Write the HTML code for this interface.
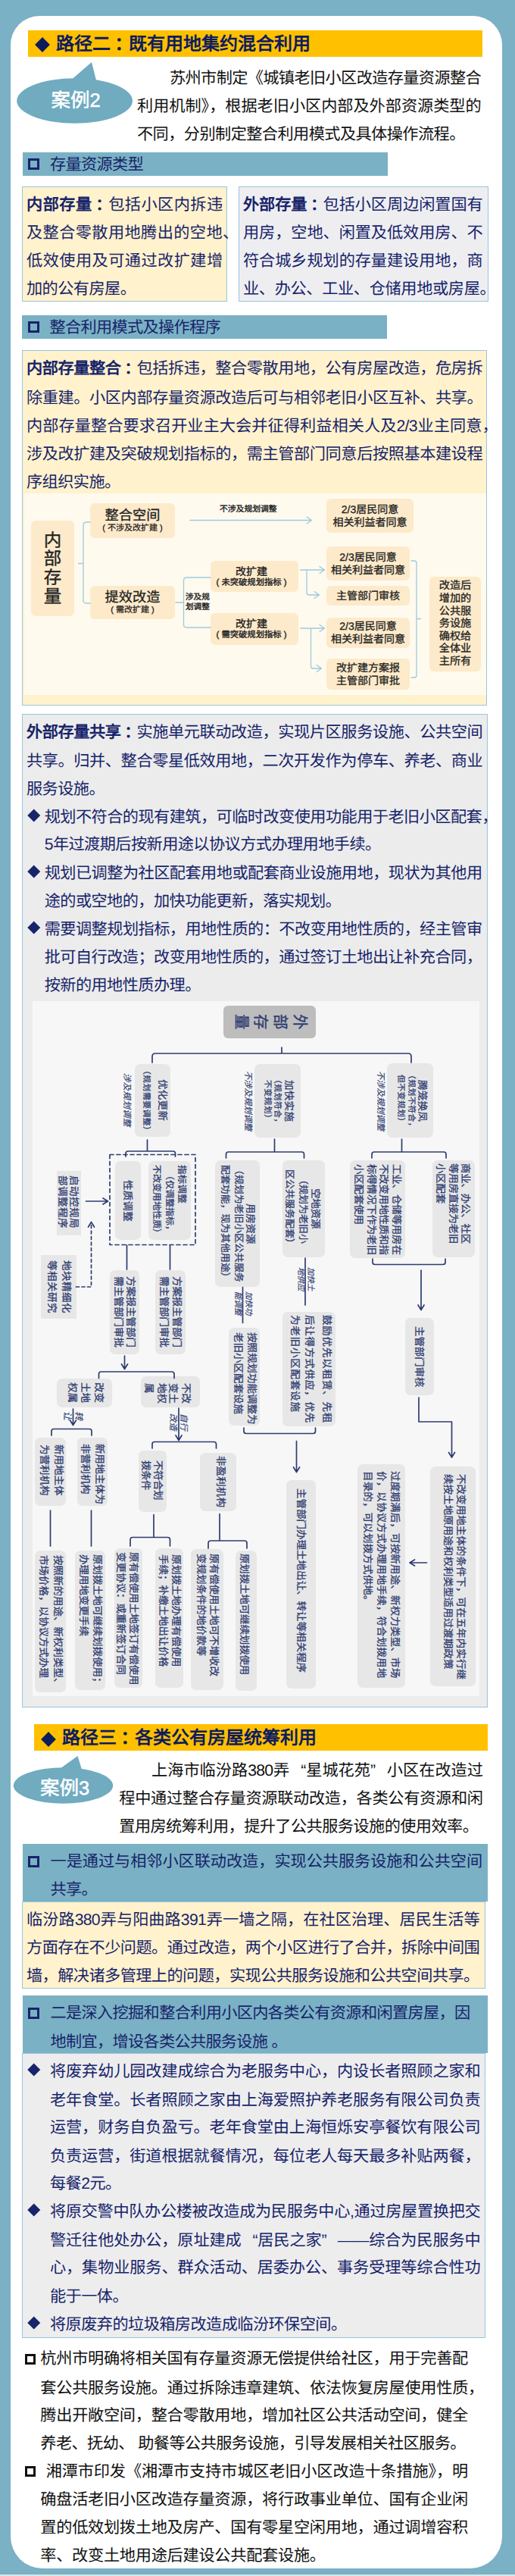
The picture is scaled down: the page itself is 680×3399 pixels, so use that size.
<!DOCTYPE html>
<html lang="zh-CN"><head><meta charset="utf-8"><title>page</title><style>
html,body{margin:0;padding:0}
body{width:680px;height:3399px;background:#7ab1c4;position:relative;overflow:hidden;font-family:"Liberation Sans",sans-serif;font-size:21.2px;color:#111;text-rendering:geometricPrecision;}
.b{position:absolute}
.l{position:absolute;white-space:nowrap;line-height:37px;height:37px;letter-spacing:-0.7px}
.cn{position:relative;left:0.22em}
.j{text-align:justify;text-align-last:justify}
.n{color:#17246a}
b{font-weight:bold}
.t{position:absolute;white-space:nowrap;font-weight:bold;color:#0e1c5e;font-size:24px;line-height:35px}
svg{position:absolute;overflow:visible}
.td{position:absolute;left:-4px;top:11.5px;width:14px;height:14px;background:#0e1c5e;transform:rotate(45deg)}
.cs{height:37px;line-height:37px;text-align:center;color:#fff;font-size:25.5px;-webkit-text-stroke:0.5px #fff}

.fb{display:flex;align-items:center;justify-content:center;text-align:center;white-space:nowrap}

.dia{position:absolute;left:-21px;top:10.4px;width:11.5px;height:11.5px;background:#17246a;transform:rotate(45deg)}

.v{position:absolute;writing-mode:vertical-rl;text-orientation:sideways;white-space:nowrap;color:#2f3c70;font-size:13.5px;-webkit-text-stroke:0.3px #2f3c70}
.vi{font-style:italic;font-size:11.3px;-webkit-text-stroke:0.15px #2f3c70}
.b0{-webkit-text-stroke:0.35px #2f3c70}

.ql{display:inline-block;width:1em;text-align:right;text-align-last:right}
.qr{display:inline-block;width:1em;text-align:left;text-align-last:left}
.sq{position:absolute;left:-29.5px;top:11px;width:15px;height:15px;border:3.2px solid #17246a;box-sizing:border-box}
.sqk{position:absolute;left:-20.5px;top:11.5px;width:14px;height:14px;border:3px solid #111;box-sizing:border-box}
</style></head><body>
<div class="b" style="left:14px;top:21px;width:648.5px;height:3368px;background:#fff;border-radius:38px 38px 42px 42px"></div>
<div class="b" style="left:0;top:3397px;width:680px;height:2px;background:#d4e6ec"></div>
<div class="b" style="left:37.0px;top:40.0px;width:600.0px;height:35.4px;background:#ffc000;"></div>
<div class="t" style="left:53px;top:40.5px"><span class="td"></span><span style="margin-left:21px">路径二<span class="cn">：</span>既有用地集约混合利用</span></div>
<svg style="left:0;top:0" width="680" height="200"><ellipse cx="98.6" cy="133" rx="76.4" ry="29.7" fill="#70abc0"/><path d="M91 108 L121 82 L128 110Z" fill="#70abc0"/></svg>
<div class="b cs" style="left:29px;top:114.5px;width:142px">案例2</div>
<div class="l j " style="left:224.0px;top:84.5px;width:411.0px;">苏州市制定《城镇老旧小区改造存量资源整合</div>
<div class="l j " style="left:181.0px;top:121.5px;width:454.0px;">利用机制》，根据老旧小区内部及外部资源类型的</div>
<div class="l " style="left:181.0px;top:158.5px;letter-spacing:-0.58px;">不同，分别制定整合利用模式及具体操作流程。</div>
<div class="b" style="left:29.7px;top:201.2px;width:481.9px;height:30.8px;background:#7ab1c4;"></div>
<div class="b" style="left:37.0px;top:209.29999999999998px;width:15px;height:15px;border:3.2px solid #17246a;box-sizing:border-box"></div>
<div class="l n" style="left:66.0px;top:199.3px;">存量资源类型</div>
<div class="b" style="left:28.5px;top:246.0px;width:271.5px;height:152.0px;background:#fff2cc;border:1.5px solid #98c6dc;box-sizing:border-box;"></div>
<div class="l j n" style="left:35.0px;top:251.5px;width:258.5px;"><b>内部存量<span class="cn">：</span></b>包括小区内拆违</div>
<div class="l j n" style="left:35.0px;top:288.5px;width:279.5px;">及整合零散用地腾出的空地、</div>
<div class="l j n" style="left:35.0px;top:325.5px;width:258.5px;">低效使用及可通过改扩建增</div>
<div class="l n" style="left:35.0px;top:362.5px;letter-spacing:-0.58px;">加的公有房屋。</div>
<div class="b" style="left:314.5px;top:246.0px;width:330.5px;height:152.0px;background:#eeeef1;border:1.5px solid #98c6dc;box-sizing:border-box;"></div>
<div class="l j n" style="left:321.0px;top:251.5px;width:316.0px;"><b>外部存量<span class="cn">：</span></b>包括小区周边闲置国有</div>
<div class="l j n" style="left:321.0px;top:288.5px;width:316.0px;">用房，空地、闲置及低效用房、不</div>
<div class="l j n" style="left:321.0px;top:325.5px;width:316.0px;">符合城乡规划的存量建设用地，商</div>
<div class="l j n" style="left:321.0px;top:362.5px;width:333.0px;">业、办公、工业、仓储用地或房屋。</div>
<div class="b" style="left:29.3px;top:416.2px;width:481.3px;height:30.9px;background:#7ab1c4;"></div>
<div class="b" style="left:36.6px;top:424.34999999999997px;width:15px;height:15px;border:3.2px solid #17246a;box-sizing:border-box"></div>
<div class="l n" style="left:65.6px;top:414.3px;">整合利用模式及操作程序</div>
<div class="b" style="left:29.0px;top:462.0px;width:614.0px;height:469.0px;background:#fff2cc;border:1.5px solid #98c6dc;box-sizing:border-box;"></div>
<div class="l j n" style="left:35.0px;top:468.2px;width:602.0px;"><b>内部存量整合<span class="cn">：</span></b>包括拆违，整合零散用地，公有房屋改造，危房拆</div>
<div class="l j n" style="left:35.0px;top:506.5px;width:602.0px;">除重建。小区内部存量资源改造后可与相邻老旧小区互补、共享。</div>
<div class="l j n" style="left:35.0px;top:544.2px;width:622.0px;">内部存量整合要求召开业主大会并征得利益相关人及2/3业主同意，</div>
<div class="l j n" style="left:35.0px;top:580.5px;width:602.0px;">涉及改扩建及突破规划指标的，需主管部门同意后按照基本建设程</div>
<div class="l n" style="left:35.0px;top:617.5px;letter-spacing:-0.58px;">序组织实施。</div>
<div class="b" style="left:32.0px;top:651.0px;width:610.0px;height:266.0px;background:#fffaee;"></div>
<div class="b fb" style="left:41.0px;top:687.0px;width:57.0px;height:126.0px;background:#fdeaca;border-radius:6px;font-size:23.5px;line-height:24.6px;color:#222;font-weight:normal;-webkit-text-stroke:0.35px #222;"><div><div>内</div><div>部</div><div>存</div><div>量</div></div></div>
<div class="b fb" style="left:119.0px;top:664.0px;width:112.0px;height:46.0px;background:#fdeaca;border-radius:6px;font-size:14px;line-height:16.7px;color:#222;font-weight:normal;-webkit-text-stroke:0.3px #222;"><div><div style="font-size:18.2px;line-height:20px">整合空间</div><div style="font-size:11px;line-height:14px">( 不涉及改扩建 )</div></div></div>
<div class="b fb" style="left:119.0px;top:773.0px;width:112.0px;height:44.0px;background:#fdeaca;border-radius:6px;font-size:14px;line-height:16.7px;color:#222;font-weight:normal;-webkit-text-stroke:0.3px #222;"><div><div style="font-size:18.2px;line-height:20px">提效改造</div><div style="font-size:11px;line-height:14px">( 需改扩建 )</div></div></div>
<div class="b fb" style="left:278.0px;top:740.0px;width:116.0px;height:41.0px;background:#fdeaca;border-radius:6px;font-size:14px;line-height:16.7px;color:#222;font-weight:normal;-webkit-text-stroke:0.4px #222;padding-right:8px;box-sizing:border-box;"><div><div style="font-size:14px;line-height:17px">改扩建</div><div style="font-size:11.3px;line-height:13px">( 未突破规划指标 )</div></div></div>
<div class="b fb" style="left:278.0px;top:809.0px;width:116.0px;height:42.0px;background:#fdeaca;border-radius:6px;font-size:14px;line-height:16.7px;color:#222;font-weight:normal;-webkit-text-stroke:0.4px #222;padding-right:8px;box-sizing:border-box;"><div><div style="font-size:14px;line-height:17px">改扩建</div><div style="font-size:11.3px;line-height:13px">( 需突破规划指标 )</div></div></div>
<div class="b fb" style="left:431.0px;top:658.0px;width:115.0px;height:45.0px;background:#fdeaca;border-radius:6px;font-size:14px;line-height:16.7px;color:#222;font-weight:normal;-webkit-text-stroke:0.3px #222;"><div><div>2/3居民同意</div><div>相关利益者同意</div></div></div>
<div class="b fb" style="left:431.0px;top:721.0px;width:110.0px;height:45.0px;background:#fdeaca;border-radius:6px;font-size:14px;line-height:16.7px;color:#222;font-weight:normal;-webkit-text-stroke:0.3px #222;"><div><div>2/3居民同意</div><div>相关利益者同意</div></div></div>
<div class="b fb" style="left:431.0px;top:773.0px;width:110.0px;height:26.0px;background:#fdeaca;border-radius:6px;font-size:14px;line-height:16.7px;color:#222;font-weight:normal;-webkit-text-stroke:0.3px #222;"><div><div>主管部门审核</div></div></div>
<div class="b fb" style="left:431.0px;top:815.0px;width:110.0px;height:40.0px;background:#fdeaca;border-radius:6px;font-size:14px;line-height:16.7px;color:#222;font-weight:normal;-webkit-text-stroke:0.3px #222;"><div><div>2/3居民同意</div><div>相关利益者同意</div></div></div>
<div class="b fb" style="left:431.0px;top:869.0px;width:110.0px;height:41.0px;background:#fdeaca;border-radius:6px;font-size:14px;line-height:16.7px;color:#222;font-weight:normal;-webkit-text-stroke:0.3px #222;"><div><div>改扩建方案报</div><div>主管部门审批</div></div></div>
<div class="b fb" style="left:567.0px;top:761.0px;width:68.0px;height:125.0px;background:#fdeaca;border-radius:6px;font-size:14.2px;line-height:16.6px;color:#222;font-weight:normal;-webkit-text-stroke:0.3px #222;"><div><div>改造后</div><div>增加的</div><div>公共服</div><div>务设施</div><div>确权给</div><div>全体业</div><div>主所有</div></div></div>
<div class="b" style="left:290px;top:666px;font-size:10.8px;line-height:13px;-webkit-text-stroke:0.4px #222;color:#222;white-space:nowrap">不涉及规划调整</div>
<div class="b" style="left:245px;top:782px;font-size:10.6px;line-height:13px;-webkit-text-stroke:0.4px #222;color:#222;white-space:nowrap">涉及规<br>划调整</div>
<svg style="left:0;top:0" width="680" height="940" fill="none" stroke="#9ccbdd" stroke-width="1.3" stroke-linecap="round" stroke-linejoin="round">
<path d="M119 689 H114 Q110 689 110 693 V792 Q110 796 114 796 H119 M110 743.5 H103.5"/>
<path d="M251 686.5 H411 M405 682 L411.5 686.5 L405 691"/>
<path d="M278 762 H246.5 Q242.5 762 242.5 766 V824 Q242.5 828 246.5 828 H278 M242.5 795 H232"/>
<path d="M396.5 752 H428 M422 747.5 L428.5 752 L422 756.5 M405 752 V782 Q405 785 408 785 H421 M415 780.5 L421.5 785 L415 789.5"/>
<path d="M396.5 829 H428 M422 824.5 L428.5 829 L422 833.5 M410.5 829 V879 Q410.5 882 413.5 882 H424 M418 877.5 L424.5 882 L418 886.5"/>
<path d="M543 740 H547 Q550 740 550 743 V891 Q550 894 547 894 H543 M550 816.5 H555.5"/>
</svg>
<div class="b" style="left:29.0px;top:942.0px;width:614.5px;height:1311.0px;background:#ececec;border:1.5px solid #98c6dc;box-sizing:border-box;"></div>
<div class="l j n" style="left:35.0px;top:948.2px;width:602.0px;"><b>外部存量共享<span class="cn">：</span></b>实施单元联动改造，实现片区服务设施、公共空间</div>
<div class="l j n" style="left:35.0px;top:986.2px;width:602.0px;">共享。归并、整合零星低效用地，二次开发作为停车、养老、商业</div>
<div class="l n" style="left:35.0px;top:1023.2px;letter-spacing:-0.58px;">服务设施。</div>
<div class="l j n" style="left:58.7px;top:1059.5px;width:598.0px;"><span class="dia" style="left:-19.75px"></span>规划不符合的现有建筑，可临时改变使用功能用于老旧小区配套，</div>
<div class="l n" style="left:58.7px;top:1096.0px;letter-spacing:-0.58px;">5年过渡期后按新用途以协议方式办理用地手续。</div>
<div class="l j n" style="left:58.7px;top:1133.5px;width:577.8px;"><span class="dia" style="left:-19.75px"></span>规划已调整为社区配套用地或配套商业设施用地，现状为其他用</div>
<div class="l n" style="left:58.7px;top:1170.5px;letter-spacing:-0.58px;">途的或空地的，加快功能更新，落实规划。</div>
<div class="l j n" style="left:58.7px;top:1207.5px;width:577.8px;"><span class="dia" style="left:-19.75px"></span>需要调整规划指标，用地性质的：不改变用地性质的，经主管审</div>
<div class="l j n" style="left:58.7px;top:1244.5px;width:577.5px;">批可自行改造；改变用地性质的，通过签订土地出让补充合同，</div>
<div class="l n" style="left:58.7px;top:1281.5px;letter-spacing:-0.58px;">按新的用地性质办理。</div>
<div class="b" style="left:43.0px;top:1321.0px;width:590.0px;height:917.0px;background:#f7f7f7;"></div>
<div class="b" style="left:295.0px;top:1327.0px;width:122.0px;height:43.0px;background:#bdbdbd;border-radius:6px;"></div>
<div class="v b0" style="left:382.5px;width:24px;line-height:24px;font-size:20.5px;top:1338.2px;">外</div>
<div class="v b0" style="left:356.9px;width:24px;line-height:24px;font-size:20.5px;top:1338.2px;">部</div>
<div class="v b0" style="left:331.3px;width:24px;line-height:24px;font-size:20.5px;top:1338.2px;">存</div>
<div class="v b0" style="left:305.7px;width:24px;line-height:24px;font-size:20.5px;top:1338.2px;">量</div>
<div class="b" style="left:177.5px;top:1403.5px;width:47.0px;height:96.0px;background:#e7e7e7;border-radius:7px;"></div>
<div class="v " style="left:205.6px;width:17px;line-height:17px;top:1424.1px;letter-spacing:0.30px;">优化更新</div>
<div class="v " style="left:184.0px;width:17px;line-height:17px;font-size:10.8px;top:1406.5px;letter-spacing:0.50px;">（规划需要调整）</div>
<div class="b" style="left:336.0px;top:1404.0px;width:60.5px;height:97.0px;background:#e7e7e7;border-radius:7px;"></div>
<div class="v " style="left:372.6px;width:17px;line-height:17px;top:1425.1px;letter-spacing:0.30px;">加快实施</div>
<div class="v " style="left:356.8px;width:17px;line-height:17px;font-size:10.8px;top:1418.8px;letter-spacing:0.50px;">（规划符合，</div>
<div class="v " style="left:344.0px;width:17px;line-height:17px;font-size:10.8px;top:1424.5px;letter-spacing:0.50px;">不变规划）</div>
<div class="b" style="left:511.0px;top:1403.0px;width:61.0px;height:98.0px;background:#e7e7e7;border-radius:7px;"></div>
<div class="v " style="left:549.0px;width:17px;line-height:17px;top:1424.6px;letter-spacing:0.30px;">腾笼换凤</div>
<div class="v " style="left:534.0px;width:17px;line-height:17px;font-size:10.8px;top:1412.7px;letter-spacing:0.50px;">（规划不符合，</div>
<div class="v " style="left:520.0px;width:17px;line-height:17px;font-size:10.8px;top:1418.3px;letter-spacing:0.50px;">但不变规划）</div>
<div class="v vi" style="left:157.7px;width:17px;line-height:17px;font-size:11.3px;top:1416.3px;letter-spacing:0.50px;">涉及规划调整</div>
<div class="v vi" style="left:318.4px;width:17px;line-height:17px;font-size:11.3px;top:1412.5px;">不涉及规划调整</div>
<div class="v vi" style="left:492.8px;width:17px;line-height:17px;font-size:11.3px;top:1412.5px;">不涉及规划调整</div>
<div class="b" style="left:151.5px;top:1532.0px;width:34.5px;height:104.0px;background:#e7e7e7;border-radius:7px;"></div>
<div class="v " style="left:160.4px;width:17px;line-height:17px;top:1556.6px;letter-spacing:0.25px;">性质调整</div>
<div class="b" style="left:196.0px;top:1532.0px;width:56.0px;height:104.0px;background:#e7e7e7;border-radius:7px;"></div>
<div class="v " style="left:231.0px;width:17px;line-height:17px;font-size:12.5px;top:1536.5px;letter-spacing:0.25px;">指标调整</div>
<div class="v " style="left:214.6px;width:17px;line-height:17px;font-size:12px;top:1544.5px;">（仅调整指标，</div>
<div class="v " style="left:198.3px;width:17px;line-height:17px;font-size:12px;top:1536.5px;">不改变用地性质）</div>
<div class="b" style="left:75.0px;top:1544.5px;width:32.0px;height:85.5px;background:#e7e7e7;"></div>
<div class="v " style="left:89.3px;width:17px;line-height:17px;top:1551.0px;letter-spacing:0.50px;">启动控规局</div>
<div class="v " style="left:74.4px;width:17px;line-height:17px;top:1551.0px;letter-spacing:0.50px;">部调整程序</div>
<div class="b" style="left:53.5px;top:1656.0px;width:47.0px;height:83.6px;background:#e7e7e7;"></div>
<div class="v " style="left:78.7px;width:17px;line-height:17px;top:1663.0px;letter-spacing:0.50px;">地块精细化</div>
<div class="v " style="left:60.3px;width:17px;line-height:17px;top:1663.0px;letter-spacing:0.50px;">等相关研究</div>
<div class="b" style="left:144.5px;top:1675.5px;width:39.5px;height:111.0px;background:#e7e7e7;border-radius:7px;"></div>
<div class="v " style="left:164.0px;width:17px;line-height:17px;top:1684.0px;letter-spacing:-0.10px;">方案报主管部门</div>
<div class="v " style="left:148.0px;width:17px;line-height:17px;top:1684.0px;letter-spacing:-0.10px;">需主管部门审批</div>
<div class="b" style="left:205.0px;top:1675.5px;width:39.5px;height:111.0px;background:#e7e7e7;border-radius:7px;"></div>
<div class="v " style="left:225.2px;width:17px;line-height:17px;top:1684.0px;letter-spacing:-0.10px;">方案报主管部门</div>
<div class="v " style="left:208.0px;width:17px;line-height:17px;top:1684.0px;letter-spacing:-0.10px;">需主管部门审批</div>
<div class="b" style="left:75.0px;top:1818.5px;width:72.5px;height:38.5px;background:#e7e7e7;border-radius:7px;"></div>
<div class="v " style="left:122.2px;width:17px;line-height:17px;top:1824.2px;">改变</div>
<div class="v " style="left:104.3px;width:17px;line-height:17px;top:1824.2px;">土地</div>
<div class="v " style="left:87.2px;width:17px;line-height:17px;top:1824.2px;">权属</div>
<div class="b" style="left:186.0px;top:1816.0px;width:77.5px;height:40.5px;background:#e7e7e7;border-radius:7px;"></div>
<div class="v " style="left:236.7px;width:17px;line-height:17px;top:1824.5px;">不改</div>
<div class="v " style="left:219.6px;width:17px;line-height:17px;top:1824.5px;">变土</div>
<div class="v " style="left:204.7px;width:17px;line-height:17px;top:1824.5px;">地权</div>
<div class="v " style="left:187.6px;width:17px;line-height:17px;top:1824.5px;">属</div>
<div class="v vi" style="left:95.3px;width:17px;line-height:17px;font-size:12px;top:1861.5px;">转</div>
<div class="v vi" style="left:79.7px;width:17px;line-height:17px;font-size:12px;top:1861.5px;">让</div>
<div class="v vi" style="left:232.8px;width:17px;line-height:17px;font-size:11.3px;top:1865.1px;letter-spacing:0.20px;">自行</div>
<div class="v vi" style="left:218.5px;width:17px;line-height:17px;font-size:11.3px;top:1865.1px;letter-spacing:0.20px;">改造</div>
<div class="b" style="left:46.0px;top:1897.0px;width:40.5px;height:89.5px;background:#e7e7e7;border-radius:7px;"></div>
<div class="v " style="left:68.8px;width:17px;line-height:17px;top:1905.5px;">新用地主体</div>
<div class="v " style="left:50.0px;width:17px;line-height:17px;top:1905.5px;">为营利机构</div>
<div class="b" style="left:102.0px;top:1897.0px;width:40.0px;height:89.5px;background:#e7e7e7;border-radius:7px;"></div>
<div class="v " style="left:122.7px;width:17px;line-height:17px;top:1905.0px;letter-spacing:-0.20px;">新用地主体为</div>
<div class="v " style="left:104.3px;width:17px;line-height:17px;top:1905.0px;letter-spacing:-0.20px;">非营利机构</div>
<div class="b" style="left:183.0px;top:1914.0px;width:37.0px;height:80.5px;background:#e7e7e7;border-radius:7px;"></div>
<div class="v " style="left:200.4px;width:17px;line-height:17px;top:1927.0px;letter-spacing:-0.50px;">不符合划</div>
<div class="v " style="left:184.2px;width:17px;line-height:17px;top:1927.0px;letter-spacing:-0.50px;">拨条件</div>
<div class="b" style="left:263.5px;top:1916.5px;width:48.5px;height:77.0px;background:#e7e7e7;border-radius:7px;"></div>
<div class="v " style="left:283.0px;width:17px;line-height:17px;top:1921.0px;letter-spacing:0.10px;">非盈利机构</div>
<div class="b" style="left:46.0px;top:2046.0px;width:40.5px;height:187.0px;background:#e7e7e7;border-radius:7px;"></div>
<div class="v " style="left:68.0px;width:17px;line-height:17px;top:2051.5px;">按照新的用途、新权利类型、</div>
<div class="v " style="left:48.8px;width:17px;line-height:17px;top:2051.5px;">市场价格，以协议方式办理</div>
<div class="b" style="left:99.0px;top:2046.0px;width:40.0px;height:184.0px;background:#e7e7e7;border-radius:7px;"></div>
<div class="v " style="left:120.0px;width:17px;line-height:17px;top:2051.0px;">原划拨土地可继续划拨使用；</div>
<div class="v " style="left:102.2px;width:17px;line-height:17px;top:2051.0px;">办理用地变更手续</div>
<div class="b" style="left:151.0px;top:2043.0px;width:37.0px;height:184.0px;background:#e7e7e7;border-radius:7px;"></div>
<div class="v " style="left:168.4px;width:17px;line-height:17px;top:2048.0px;">原有偿使用土地签订有偿使用</div>
<div class="v " style="left:151.3px;width:17px;line-height:17px;top:2048.0px;">变更协议：或重新签订合同</div>
<div class="b" style="left:205.0px;top:2043.0px;width:37.0px;height:184.0px;background:#e7e7e7;border-radius:7px;"></div>
<div class="v " style="left:224.0px;width:17px;line-height:17px;top:2050.5px;">原划拨土地办理有偿使用</div>
<div class="v " style="left:206.8px;width:17px;line-height:17px;top:2050.5px;">手续；补缴土地出让价格</div>
<div class="b" style="left:251.5px;top:2044.0px;width:43.5px;height:185.5px;background:#e7e7e7;border-radius:7px;"></div>
<div class="v " style="left:274.4px;width:17px;line-height:17px;top:2050.0px;">原有偿使用土地可不增收改</div>
<div class="v " style="left:257.3px;width:17px;line-height:17px;top:2050.0px;">变规划条件的地价款等</div>
<div class="b" style="left:310.5px;top:2046.0px;width:28.5px;height:185.0px;background:#e7e7e7;border-radius:7px;"></div>
<div class="v " style="left:314.0px;width:17px;line-height:17px;top:2050.0px;letter-spacing:-0.15px;">原划拨土地可继续划拨使用</div>
<div class="b" style="left:377.5px;top:1953.0px;width:39.0px;height:274.5px;background:#e7e7e7;border-radius:7px;"></div>
<div class="v " style="left:388.5px;width:17px;line-height:17px;top:1963.5px;">主管部门办理土地出让、转让等相关程序</div>
<div class="b" style="left:283.5px;top:1531.0px;width:59.0px;height:166.5px;background:#e7e7e7;border-radius:7px;"></div>
<div class="v " style="left:322.0px;width:17px;line-height:17px;top:1587.6px;letter-spacing:-0.20px;">用房资源</div>
<div class="v " style="left:307.2px;width:17px;line-height:17px;font-size:12.9px;top:1536.5px;">（规划为老旧小区公共服务</div>
<div class="v " style="left:288.8px;width:17px;line-height:17px;font-size:12.9px;top:1536.5px;">配套功能，现为其他用途）</div>
<div class="b" style="left:373.0px;top:1531.0px;width:55.5px;height:128.0px;background:#e7e7e7;border-radius:7px;"></div>
<div class="v " style="left:407.7px;width:17px;line-height:17px;top:1568.3px;letter-spacing:-0.20px;">空地资源</div>
<div class="v " style="left:392.0px;width:17px;line-height:17px;font-size:13px;top:1549.5px;">（规划为老旧小</div>
<div class="v " style="left:374.0px;width:17px;line-height:17px;font-size:13px;top:1543.0px;">区公共服务配套）</div>
<div class="v vi" style="left:319.0px;width:17px;line-height:17px;font-size:10.5px;top:1703.8px;">加快功</div>
<div class="v vi" style="left:305.2px;width:17px;line-height:17px;font-size:10.5px;top:1703.8px;">能调整</div>
<div class="v vi" style="left:400.6px;width:17px;line-height:17px;font-size:10.5px;top:1671.5px;">加快土</div>
<div class="v vi" style="left:388.0px;width:17px;line-height:17px;font-size:10.5px;top:1671.5px;">地供应</div>
<div class="b" style="left:302.0px;top:1752.0px;width:41.0px;height:129.0px;background:#e7e7e7;border-radius:7px;"></div>
<div class="v " style="left:323.5px;width:17px;line-height:17px;top:1758.0px;">按照规划功能调整为</div>
<div class="v " style="left:306.4px;width:17px;line-height:17px;top:1758.0px;">老旧小区配套设施</div>
<div class="b" style="left:373.0px;top:1730.5px;width:69.5px;height:151.5px;background:#e7e7e7;border-radius:7px;"></div>
<div class="v " style="left:422.6px;width:17px;line-height:17px;top:1735.0px;letter-spacing:0.80px;">鼓励优先以租赁、先租</div>
<div class="v " style="left:400.4px;width:17px;line-height:17px;top:1735.0px;letter-spacing:0.80px;">后让得方式供应，优先</div>
<div class="v " style="left:381.0px;width:17px;line-height:17px;top:1735.0px;letter-spacing:0.80px;">为老旧小区配套设施</div>
<div class="b" style="left:462.0px;top:1531.0px;width:72.5px;height:129.0px;background:#e7e7e7;border-radius:7px;"></div>
<div class="v " style="left:515.0px;width:17px;line-height:17px;top:1536.0px;letter-spacing:-0.20px;">工业、仓储等用房在</div>
<div class="v " style="left:498.0px;width:17px;line-height:17px;top:1536.0px;letter-spacing:-0.20px;">不改变用地性质和指</div>
<div class="v " style="left:481.7px;width:17px;line-height:17px;top:1536.0px;letter-spacing:-0.20px;">标得情况下作为老旧</div>
<div class="v " style="left:464.6px;width:17px;line-height:17px;top:1536.0px;letter-spacing:-0.20px;">小区配套使用</div>
<div class="b" style="left:571.0px;top:1531.0px;width:55.5px;height:128.0px;background:#e7e7e7;border-radius:7px;"></div>
<div class="v " style="left:605.5px;width:17px;line-height:17px;top:1535.0px;letter-spacing:-0.25px;">商业、办公、社区</div>
<div class="v " style="left:589.7px;width:17px;line-height:17px;top:1535.0px;letter-spacing:-0.25px;">等用房直接为老旧</div>
<div class="v " style="left:572.6px;width:17px;line-height:17px;top:1535.0px;letter-spacing:-0.25px;">小区配套</div>
<div class="b" style="left:534.5px;top:1739.0px;width:38.5px;height:101.5px;background:#e7e7e7;border-radius:7px;"></div>
<div class="v " style="left:545.0px;width:17px;line-height:17px;top:1749.5px;letter-spacing:-0.10px;">主管部门审核</div>
<div class="b" style="left:567.5px;top:1935.0px;width:60.5px;height:289.5px;background:#e7e7e7;border-radius:7px;"></div>
<div class="v " style="left:599.5px;width:17px;line-height:17px;top:1945.0px;letter-spacing:0.05px;">不改变用地主体的条件下，可在五年内实行继</div>
<div class="v " style="left:582.5px;width:17px;line-height:17px;top:1945.0px;letter-spacing:0.05px;">续按土地原用途和权利类型适用过渡期政策</div>
<div class="b" style="left:471.5px;top:1932.0px;width:63.0px;height:295.0px;background:#e7e7e7;border-radius:7px;"></div>
<div class="v " style="left:512.8px;width:17px;line-height:17px;top:1940.5px;letter-spacing:0.17px;">过度期满后，可按新用途、新权力类型、市场</div>
<div class="v " style="left:494.5px;width:17px;line-height:17px;top:1940.5px;letter-spacing:0.17px;">价，以协议方式办理用地手续，符合划拨用地</div>
<div class="v " style="left:476.5px;width:17px;line-height:17px;top:1940.5px;letter-spacing:0.17px;">目录的，可以划拨方式供地。</div>
<svg style="left:0;top:0" width="680" height="2260" fill="none" stroke="#2f3c70" stroke-width="1.7" stroke-linecap="round" stroke-linejoin="round">
<path d="M201 1402 V1394 Q201 1390 205 1390 H539 Q543 1390 543 1394 V1402 M372 1390 V1382 M194.5 1504 V1518 M166 1526 V1522 Q166 1519 169 1519 H228.5 Q231.5 1519 231.5 1522 V1526 M362.5 1503 V1519 M298.5 1528 V1523 Q298.5 1520 301.5 1520 H398.5 Q401.5 1520 401.5 1523 V1528 M530.5 1503 V1519 M491 1528 V1523 Q491 1520 494 1520 H586 Q589 1520 589 1523 V1528 M113.5 1585 H142 M136.0 1581 L142.5 1585 L136.0 1589 M167.5 1643 V1675 M224.5 1643 V1675 M164.5 1789 V1806 M160.5 1800.0 L164.5 1806.5 L168.5 1800.0 M130.5 1818.5 V1813 Q130.5 1810 133.5 1810 H227 Q230 1810 230 1813 V1818.5 M96.5 1859 V1880 M92.5 1874.0 L96.5 1880.5 L100.5 1874.0 M68 1894 V1888.5 Q68 1885.5 71 1885.5 H118 Q121 1885.5 121 1888.5 V1894 M236 1858 V1900 M232 1894.0 L236 1900.5 L240 1894.0 M201 1911 V1905.5 Q201 1902.5 204 1902.5 H282.5 Q285.5 1902.5 285.5 1905.5 V1911 M66.5 1993 V2040 M120.5 1993 V2040 M203 1998.5 V2028 M172 2040 V2031.5 Q172 2028.5 175 2028.5 H221.5 Q224.5 2028.5 224.5 2031.5 V2040 M290 1997.5 V2032 M275 2043 V2036 Q275 2033 278 2033 H323 Q326 2033 326 2036 V2043 M320.5 1698.5 V1745.5 M403 1660 V1722 M322 1884 V1888.5 Q322 1891.5 325 1891.5 H413.5 Q416.5 1891.5 416.5 1888.5 V1884 M391.5 1901.5 V1942 M387.5 1936.0 L391.5 1942.5 L395.5 1936.0 M492 1661 V1665.5 Q492 1668.5 495 1668.5 H585 Q588 1668.5 588 1665.5 V1661 M556 1676 V1728 M552 1722.0 L556 1728.5 L560 1722.0 M553 1844 V1876 H596.5 V1922.5 M592.5 1916.5 L596.5 1923 L600.5 1916.5 M563.5 2062 H541.5 M547.5 2058 L541 2062 L547.5 2066"/>
<rect x="145" y="1523.5" width="113" height="119" stroke-dasharray="5 4"/>
<path d="M100.5 1698 H120.5 V1614" stroke-dasharray="4 3.5"/><path d="M116.5 1619.0 L120.5 1612.5 L124.5 1619.0"/>
</svg>
<div class="b" style="left:45.0px;top:2275.0px;width:598.5px;height:35.4px;background:#ffc000;"></div>
<div class="t" style="left:61px;top:2276px"><span class="td"></span><span style="margin-left:21px">路径三<span class="cn">：</span>各类公有房屋统筹利用</span></div>
<svg style="left:0;top:2300px" width="680" height="100"><ellipse cx="83.5" cy="56" rx="65.7" ry="23.7" fill="#70abc0"/><path d="M76 36 L102.5 17 L109 38Z" fill="#70abc0"/></svg>
<div class="b cs" style="left:20px;top:2342px;width:131px">案例3</div>
<div class="l j " style="left:200.0px;top:2317.5px;width:437.3px;">上海市临汾路380弄<span class="ql">“</span>星城花苑<span class="qr">”</span>小区在改造过</div>
<div class="l j " style="left:157.3px;top:2354.5px;width:480.0px;">程中通过整合存量资源联动改造，各类公有资源和闲</div>
<div class="l " style="left:157.3px;top:2391.5px;letter-spacing:-0.58px;">置用房统筹利用，提升了公共服务设施的使用效率。</div>
<div class="b" style="left:30.0px;top:2433.0px;width:613.5px;height:76.0px;background:#7ab1c4;"></div>
<div class="l j n" style="left:66.5px;top:2437.5px;width:570.0px;"><span class="sq"></span>一是通过与相邻小区联动改造，实现公共服务设施和公共空间</div>
<div class="l n" style="left:66.5px;top:2474.5px;">共享。</div>
<div class="b" style="left:28.5px;top:2509.0px;width:612.5px;height:114.5px;background:#fff2cc;border:1.5px solid #98c6dc;box-sizing:border-box;"></div>
<div class="l j n" style="left:35.0px;top:2514.5px;width:598.0px;">临汾路380弄与阳曲路391弄一墙之隔，在社区治理、居民生活等</div>
<div class="l j n" style="left:35.0px;top:2551.5px;width:598.0px;">方面存在不少问题。通过改造，两个小区进行了合并，拆除中间围</div>
<div class="l n" style="left:35.0px;top:2588.5px;letter-spacing:-0.58px;">墙，解决诸多管理上的问题，实现公共服务设施和公共空间共享。</div>
<div class="b" style="left:30.0px;top:2633.3px;width:613.5px;height:75.7px;background:#7ab1c4;"></div>
<div class="l j n" style="left:66.5px;top:2637.5px;width:554.0px;"><span class="sq"></span>二是深入挖掘和整合利用小区内各类公有资源和闲置房屋，因</div>
<div class="l n" style="left:66.5px;top:2675.5px;">地制宜，增设各类公共服务设施 。</div>
<div class="b" style="left:28.5px;top:2709.0px;width:612.5px;height:376.0px;background:#ededee;border:1.5px solid #98c6dc;box-sizing:border-box;"></div>
<div class="l j n" style="left:66.0px;top:2715.0px;width:568.0px;"><span class="dia" style="left:-26.75px"></span>将废弃幼儿园改建成综合为老服务中心，内设长者照顾之家和</div>
<div class="l j n" style="left:66.0px;top:2752.5px;width:568.0px;">老年食堂。长者照顾之家由上海爱照护养老服务有限公司负责</div>
<div class="l j n" style="left:66.0px;top:2789.0px;width:568.0px;">运营，财务自负盈亏。老年食堂由上海恒烁安亭餐饮有限公司</div>
<div class="l j n" style="left:66.0px;top:2826.5px;width:568.0px;">负责运营，街道根据就餐情况，每位老人每天最多补贴两餐，</div>
<div class="l n" style="left:66.0px;top:2863.0px;letter-spacing:-0.58px;">每餐2元。</div>
<div class="l j n" style="left:66.0px;top:2900.0px;width:568.0px;"><span class="dia" style="left:-26.75px"></span>将原交警中队办公楼被改造成为民服务中心,通过房屋置换把交</div>
<div class="l j n" style="left:66.0px;top:2937.5px;width:568.0px;">警迁往他处办公，原址建成<span class="ql">“</span>居民之家<span class="qr">”</span>——综合为民服务中</div>
<div class="l j n" style="left:66.0px;top:2973.5px;width:568.0px;">心，集物业服务、群众活动、居委办公、事务受理等综合性功</div>
<div class="l n" style="left:66.0px;top:3011.5px;letter-spacing:-0.58px;">能于一体。</div>
<div class="l n" style="left:66.0px;top:3048.5px;letter-spacing:-0.58px;"><span class="dia" style="left:-26.75px"></span>将原废弃的垃圾箱房改造成临汾环保空间。</div>
<div class="l j " style="left:53.3px;top:3094.0px;width:564.3px;"><span class="sqk"></span>杭州市明确将相关国有存量资源无偿提供给社区，用于完善配</div>
<div class="l j " style="left:53.3px;top:3132.5px;width:585.3px;">套公共服务设施。通过拆除违章建筑、依法恢复房屋使用性质，</div>
<div class="l j " style="left:53.3px;top:3168.5px;width:564.3px;">腾出开敞空间，整合零散用地，增加社区公共活动空间，健全</div>
<div class="l j " style="left:53.3px;top:3205.5px;width:561.5px;">养老、抚幼、 助餐等公共服务设施，引导发展相关社区服务。</div>
<div class="l j " style="left:53.3px;top:3242.5px;width:564.3px;"><span class="sqk"></span><span style="margin-left:7.4px"></span>湘潭市印发《湘潭市支持市城区老旧小区改造十条措施》，明</div>
<div class="l j " style="left:53.3px;top:3279.5px;width:564.3px;">确盘活老旧小区改造存量资源，将行政事业单位、国有企业闲</div>
<div class="l j " style="left:53.3px;top:3316.5px;width:564.3px;">置的低效划拨土地及房产、国有零星空闲用地，通过调增容积</div>
<div class="l j " style="left:53.3px;top:3353.5px;width:376.0px;">率、改变土地用途后建设公共配套设施。</div>
</body></html>
